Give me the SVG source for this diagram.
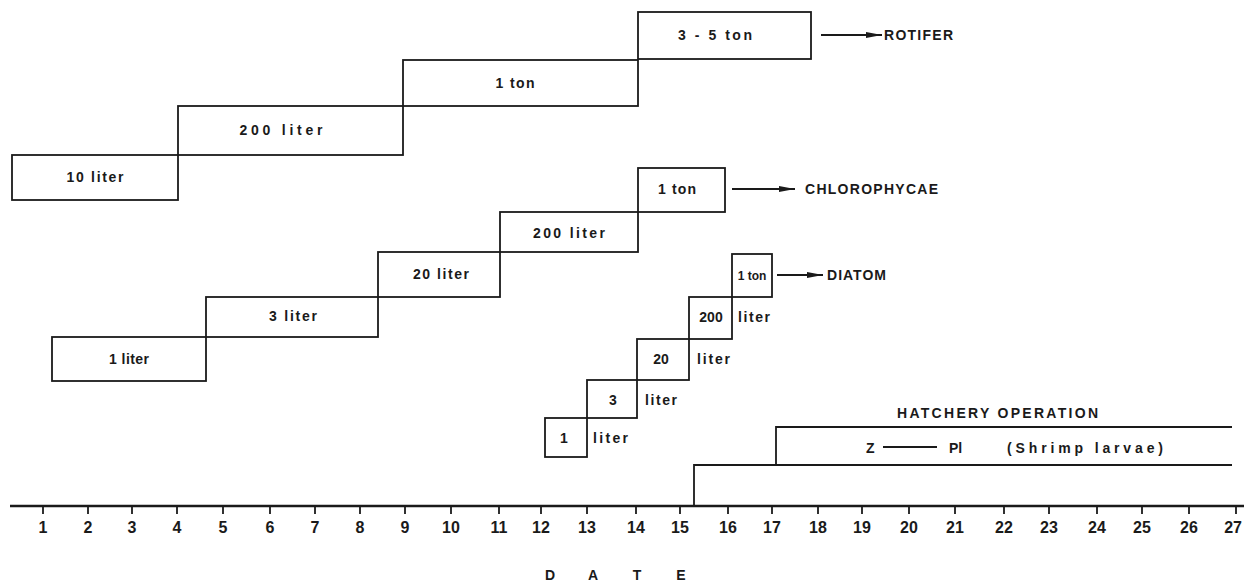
<svg xmlns="http://www.w3.org/2000/svg" width="1244" height="586" viewBox="0 0 1244 586">
<style>
.box{fill:none;stroke:#1a1a1a;stroke-width:1.8}
.ln{fill:none;stroke:#1a1a1a;stroke-width:1.8}
.t{font-family:"Liberation Sans",Arial,sans-serif;font-weight:bold;font-size:14px;fill:#1a1a1a;text-anchor:middle}
.s{font-family:"Liberation Sans",Arial,sans-serif;font-weight:bold;font-size:14px;fill:#1a1a1a}
.n{font-family:"Liberation Sans",Arial,sans-serif;font-weight:bold;font-size:16px;fill:#1a1a1a;text-anchor:middle}
.tick{stroke:#1a1a1a;stroke-width:1.8}
</style>
<defs>
<marker id="ah" viewBox="0 0 16 7" refX="16" refY="3.5" markerWidth="16" markerHeight="7" markerUnits="userSpaceOnUse" orient="auto">
<path d="M0,0.6 L16,3.5 L0,6.4 Z" fill="#1a1a1a"/>
</marker>
</defs>
<rect width="1244" height="586" fill="#ffffff"/>

<g id="rotifer">
<g id="r-10liter"><rect class="box" x="12" y="155" width="166" height="45"/><text class="t" x="95" y="182" textLength="57" lengthAdjust="spacing">10 liter</text></g>
<g id="r-200liter"><rect class="box" x="178" y="106" width="225" height="49"/><text class="t" x="281" y="135" textLength="83" lengthAdjust="spacing">200 liter</text></g>
<g id="r-1ton"><rect class="box" x="403" y="60" width="235" height="46"/><text class="t" x="515" y="88" textLength="39" lengthAdjust="spacing">1 ton</text></g>
<g id="r-35ton"><rect class="box" x="638" y="12" width="173" height="47"/><text class="t" x="715" y="40" textLength="74" lengthAdjust="spacing">3 - 5 ton</text></g>
<g id="r-label"><text class="s" x="884" y="40" textLength="69" lengthAdjust="spacing">ROTIFER</text></g>
</g>

<g id="chlorophycae">
<g id="c-1liter"><rect class="box" x="52" y="337" width="154" height="44"/><text class="t" x="129" y="364" textLength="40" lengthAdjust="spacing">1 liter</text></g>
<g id="c-3liter"><rect class="box" x="206" y="297" width="172" height="40"/><text class="t" x="293" y="321" textLength="48" lengthAdjust="spacing">3 liter</text></g>
<g id="c-20liter"><rect class="box" x="378" y="252" width="122" height="45"/><text class="t" x="441" y="279" textLength="56" lengthAdjust="spacing">20 liter</text></g>
<g id="c-200liter"><rect class="box" x="500" y="212" width="138" height="40"/><text class="t" x="569" y="238" textLength="72" lengthAdjust="spacing">200 liter</text></g>
<g id="c-1ton"><rect class="box" x="638" y="168" width="87" height="44"/><text class="t" x="677" y="194" textLength="38" lengthAdjust="spacing">1 ton</text></g>
<g id="c-label"><text class="s" x="805" y="194" textLength="133" lengthAdjust="spacing">CHLOROPHYCAE</text></g>
</g>

<g id="diatom">
<g id="d-1liter"><rect class="box" x="545" y="418" width="42" height="39"/><text class="t" x="564" y="443">1</text><text class="s" x="593" y="443" textLength="35" lengthAdjust="spacing">liter</text></g>
<g id="d-3liter"><rect class="box" x="587" y="380" width="50" height="38"/><text class="t" x="613" y="405">3</text><text class="s" x="645" y="405" textLength="32" lengthAdjust="spacing">liter</text></g>
<g id="d-20liter"><rect class="box" x="637" y="339" width="52" height="41"/><text class="t" x="661" y="364">20</text><text class="s" x="697" y="364" textLength="33" lengthAdjust="spacing">liter</text></g>
<g id="d-200liter"><rect class="box" x="689" y="297" width="43" height="42"/><text class="t" x="711" y="322">200</text><text class="s" x="738" y="322" textLength="32" lengthAdjust="spacing">liter</text></g>
<g id="d-1ton"><rect class="box" x="732" y="254" width="40" height="43"/><text class="t" x="752" y="280" style="font-size:12px">1 ton</text></g>
<g id="d-label"><text class="s" x="827" y="280" textLength="59" lengthAdjust="spacing">DIATOM</text></g>
</g>

<g id="hatchery">
<path class="ln" d="M694,506 V465 H1232"/>
<path class="ln" d="M776,465 V427 H1232"/>
<text class="s" x="897" y="418" textLength="201" lengthAdjust="spacing">HATCHERY OPERATION</text>
<text class="s" x="866" y="453">Z</text>
<line class="ln" x1="883" y1="447" x2="937" y2="447"/>
<text class="s" x="949" y="453">Pl</text>
<text class="s" x="1007" y="453" textLength="156" lengthAdjust="spacing">(Shrimp larvae)</text>
</g>

<g id="connectors">
<line class="ln" x1="821" y1="35" x2="882" y2="35" marker-end="url(#ah)"/>
<line class="ln" x1="732" y1="189" x2="795" y2="189" marker-end="url(#ah)"/>
<line class="ln" x1="777" y1="275" x2="823" y2="275" marker-end="url(#ah)"/>
</g>

<g id="axis">
<line x1="10" y1="506" x2="1244" y2="506" stroke="#1a1a1a" stroke-width="2.6"/>
<g class="tick">
<line x1="43" y1="506" x2="43" y2="514"/><line x1="88" y1="506" x2="88" y2="514"/><line x1="132" y1="506" x2="132" y2="514"/><line x1="177" y1="506" x2="177" y2="514"/><line x1="223" y1="506" x2="223" y2="514"/><line x1="270" y1="506" x2="270" y2="514"/><line x1="315" y1="506" x2="315" y2="514"/><line x1="360" y1="506" x2="360" y2="514"/><line x1="405" y1="506" x2="405" y2="514"/><line x1="451" y1="506" x2="451" y2="514"/><line x1="499" y1="506" x2="499" y2="514"/><line x1="541" y1="506" x2="541" y2="514"/><line x1="587" y1="506" x2="587" y2="514"/><line x1="636" y1="506" x2="636" y2="514"/><line x1="680" y1="506" x2="680" y2="514"/><line x1="728" y1="506" x2="728" y2="514"/><line x1="772" y1="506" x2="772" y2="514"/><line x1="818" y1="506" x2="818" y2="514"/><line x1="862" y1="506" x2="862" y2="514"/><line x1="909" y1="506" x2="909" y2="514"/><line x1="955" y1="506" x2="955" y2="514"/><line x1="1004" y1="506" x2="1004" y2="514"/><line x1="1049" y1="506" x2="1049" y2="514"/><line x1="1097" y1="506" x2="1097" y2="514"/><line x1="1142" y1="506" x2="1142" y2="514"/><line x1="1189" y1="506" x2="1189" y2="514"/><line x1="1236" y1="506" x2="1236" y2="514"/>
</g>
<g>
<text class="n" x="43" y="533">1</text><text class="n" x="88" y="533">2</text><text class="n" x="132" y="533">3</text><text class="n" x="177" y="533">4</text><text class="n" x="223" y="533">5</text><text class="n" x="270" y="533">6</text><text class="n" x="315" y="533">7</text><text class="n" x="360" y="533">8</text><text class="n" x="405" y="533">9</text><text class="n" x="451" y="533">10</text><text class="n" x="499" y="533">11</text><text class="n" x="541" y="533">12</text><text class="n" x="587" y="533">13</text><text class="n" x="636" y="533">14</text><text class="n" x="680" y="533">15</text><text class="n" x="728" y="533">16</text><text class="n" x="772" y="533">17</text><text class="n" x="818" y="533">18</text><text class="n" x="862" y="533">19</text><text class="n" x="909" y="533">20</text><text class="n" x="955" y="533">21</text><text class="n" x="1004" y="533">22</text><text class="n" x="1049" y="533">23</text><text class="n" x="1097" y="533">24</text><text class="n" x="1142" y="533">25</text><text class="n" x="1189" y="533">26</text><text class="n" x="1242" y="533" style="text-anchor:end">27</text>
</g>
<g>
<text class="n" x="550" y="580" style="font-size:14px">D</text><text class="n" x="593" y="580" style="font-size:14px">A</text><text class="n" x="637" y="580" style="font-size:14px">T</text><text class="n" x="681" y="580" style="font-size:14px">E</text>
</g>
</g>
</svg>
